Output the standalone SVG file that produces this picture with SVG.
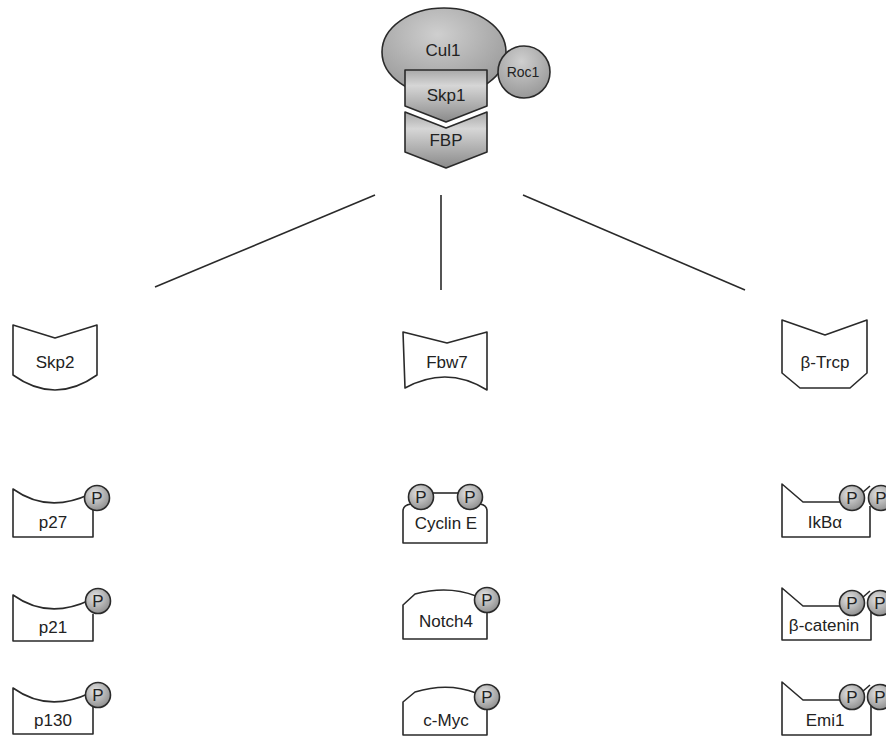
<svg xmlns="http://www.w3.org/2000/svg" width="886" height="736" viewBox="0 0 886 736">
<defs>
<radialGradient id="pg" cx="0.4" cy="0.35" r="0.7">
<stop offset="0" stop-color="#e4e4e4"/>
<stop offset="1" stop-color="#8c8c8c"/>
</radialGradient>
<radialGradient id="cg" cx="0.45" cy="0.3" r="0.75">
<stop offset="0" stop-color="#cfcfcf"/>
<stop offset="1" stop-color="#959595"/>
</radialGradient>
<linearGradient id="sg" x1="0" y1="0" x2="0" y2="1">
<stop offset="0" stop-color="#a8a8a8"/>
<stop offset="0.3" stop-color="#d6d6d6"/>
<stop offset="1" stop-color="#8a8a8a"/>
</linearGradient>
<style>
.o{stroke:#2a2a2a;stroke-width:1.6;stroke-linejoin:round}
.w{fill:#fff}
.p{fill:url(#pg)}
.t{font-family:"Liberation Sans",Arial,sans-serif;font-size:17px;fill:#222;text-anchor:middle}
.c{stroke:#2a2a2a;stroke-width:1.6;fill:none}
</style>
</defs>
<rect width="886" height="736" fill="#fff"/>

<g id="complex">
<ellipse class="o" cx="444" cy="52" rx="62" ry="44" fill="url(#cg)"/>
<circle class="o" cx="524" cy="72" r="26" fill="url(#cg)"/>
<path class="o" fill="url(#sg)" d="M405,70 L487,70 L487,106 L446,122 L405,106 Z"/>
<path class="o" fill="url(#sg)" d="M405,112 L446,128 L487,112 L487,152 L446,168 L405,152 Z"/>
<text class="t" x="443" y="56">Cul1</text>
<text class="t" x="523" y="77" style="font-size:14px">Roc1</text>
<text class="t" x="446" y="101">Skp1</text>
<text class="t" x="446" y="146">FBP</text>
</g>

<g id="connectors">
<line class="c" x1="375" y1="195" x2="155" y2="287"/>
<line class="c" x1="441" y1="195" x2="441" y2="290"/>
<line class="c" x1="523" y1="195" x2="745" y2="290"/>
</g>

<g id="skp2">
<path class="o w" d="M13,325 L55,338 L97,325 L97,375 Q55,405 13,375 Z"/>
<text class="t" x="55" y="368">Skp2</text>
</g>
<g id="fbw7">
<path class="o w" d="M403,332 L447,343 L487,332 L487,390 Q447,365 405,388 Z"/>
<text class="t" x="447" y="368">Fbw7</text>
</g>
<g id="btrcp">
<path class="o w" d="M782,320 L825,335 L867,320 L867,373 L850,388 L800,388 L782,373 Z"/>
<text class="t" x="825" y="368">β-Trcp</text>
</g>

<g id="p27">
<path class="o w" d="M90,494 Q48,514 13,489 L13,537 L93,537 L93,508"/>
<circle class="o p" cx="97" cy="498" r="12.5"/>
<text class="t" x="97" y="504">P</text>
<text class="t" x="53" y="528">p27</text>
</g>
<g id="p21">
<path class="o w" d="M90,600 Q48,620 13,595 L13,641 L93,641 L93,614"/>
<circle class="o p" cx="98" cy="601" r="12.5"/>
<text class="t" x="98" y="607">P</text>
<text class="t" x="53" y="633">p21</text>
</g>
<g id="p130">
<path class="o w" d="M90,693 Q48,713 13,688 L13,734 L93,734 L93,707"/>
<circle class="o p" cx="98" cy="695" r="12.5"/>
<text class="t" x="98" y="701">P</text>
<text class="t" x="53" y="726">p130</text>
</g>

<g id="cyclinE">
<path class="o w" d="M411,504 Q403,505 403,511 L403,543 L487,543 L487,511 Q487,505 480,504"/>
<line class="c" x1="430" y1="493" x2="462" y2="493"/>
<circle class="o p" cx="421" cy="497" r="12.5"/>
<circle class="o p" cx="470" cy="497" r="12.5"/>
<text class="t" x="421" y="503">P</text>
<text class="t" x="470" y="503">P</text>
<text class="t" x="446" y="529">Cyclin E</text>
</g>
<g id="notch4">
<path class="o w" d="M476,596 Q448,585 415,594 L403,605 L403,639 L487,639 L487,612"/>
<circle class="o p" cx="487" cy="600" r="12.5"/>
<text class="t" x="487" y="606">P</text>
<text class="t" x="446" y="627">Notch4</text>
</g>
<g id="cmyc">
<path class="o w" d="M476,693 Q448,682 415,692 L403,702 L403,735 L487,735 L487,709"/>
<circle class="o p" cx="487" cy="697" r="12.5"/>
<text class="t" x="487" y="703">P</text>
<text class="t" x="446" y="726">c-Myc</text>
</g>

<g id="ikba">
<path class="o w" d="M841,502 L803,502 L782,484 L782,537 L870,537 L870,506"/>
<line class="c" x1="862" y1="493" x2="870" y2="486"/>
<circle class="o p" cx="852" cy="498" r="12.5"/>
<circle class="o p" cx="881" cy="498" r="12.5"/>
<text class="t" x="852" y="504">P</text>
<text class="t" x="881" y="504">P</text>
<text class="t" x="825" y="528">IkBα</text>
</g>
<g id="bcatenin">
<path class="o w" d="M841,606 L803,606 L782,588 L782,640 L871,640 L871,610"/>
<line class="c" x1="862" y1="598" x2="870" y2="591"/>
<circle class="o p" cx="852" cy="603" r="12.5"/>
<circle class="o p" cx="880" cy="603" r="12.5"/>
<text class="t" x="852" y="609">P</text>
<text class="t" x="880" y="609">P</text>
<text class="t" x="824" y="631">β-catenin</text>
</g>
<g id="emi1">
<path class="o w" d="M841,700 L803,700 L782,682 L782,735 L871,735 L871,704"/>
<line class="c" x1="862" y1="692" x2="870" y2="685"/>
<circle class="o p" cx="852" cy="697" r="12.5"/>
<circle class="o p" cx="880" cy="697" r="12.5"/>
<text class="t" x="852" y="703">P</text>
<text class="t" x="880" y="703">P</text>
<text class="t" x="825" y="726">Emi1</text>
</g>
</svg>
